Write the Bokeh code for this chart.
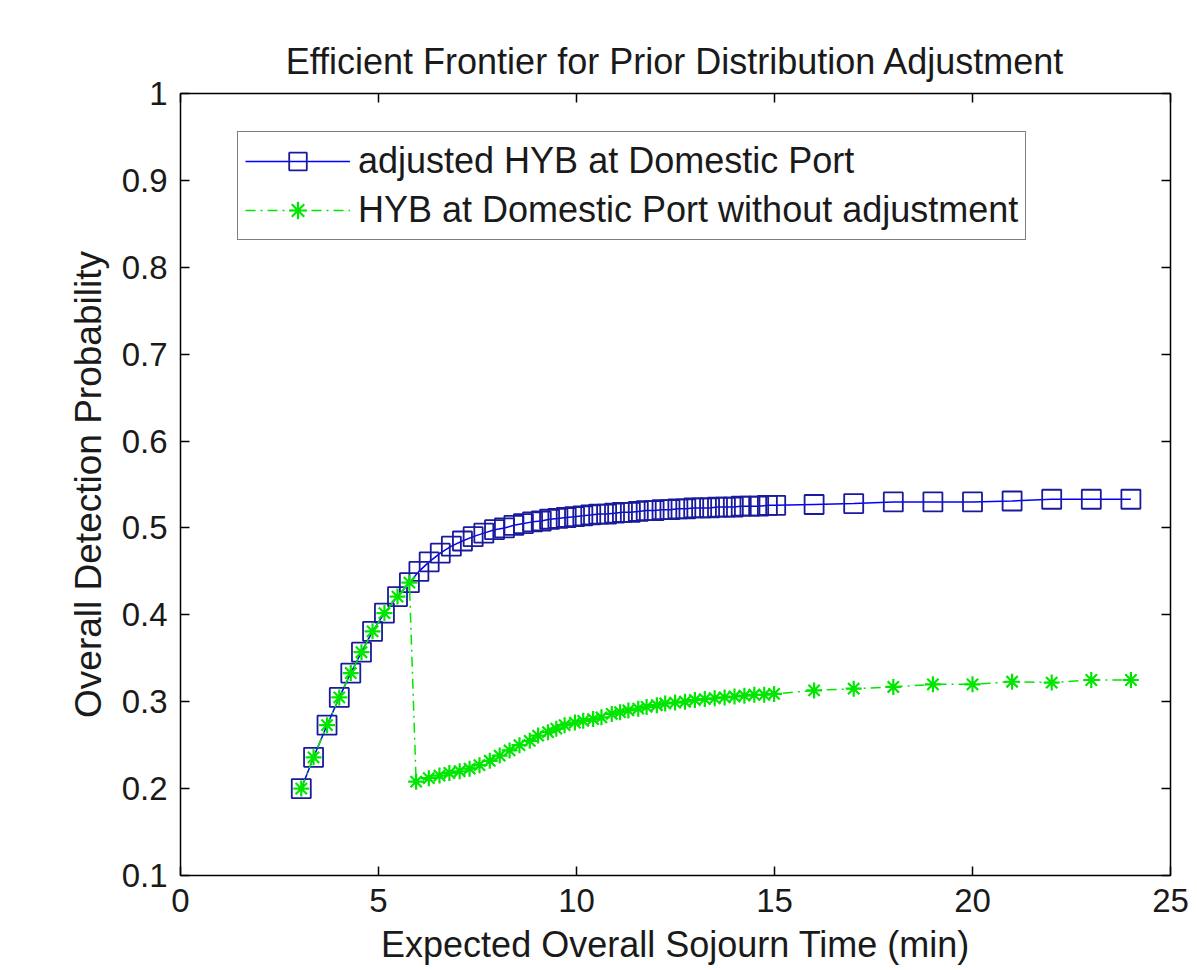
from bokeh.plotting import figure
from bokeh.models import LinearAxis, FixedTicker, Range1d, Legend, LegendItem, Title
from bokeh.embed import file_html
from bokeh.resources import INLINE

# ---- data ----
adj_x = [3.05, 3.36, 3.70, 4.01, 4.30, 4.57, 4.85, 5.15, 5.48, 5.78,
         6.02, 6.28, 6.56, 6.84, 7.12, 7.39, 7.66, 7.93, 8.18, 8.42,
         8.66, 8.89, 9.11, 9.32, 9.53, 9.74, 9.95, 10.16, 10.36, 10.56,
         10.76, 10.96, 11.16, 11.36, 11.56, 11.76, 11.96, 12.16, 12.36, 12.56,
         12.76, 12.96, 13.16, 13.36, 13.56, 13.76, 13.96, 14.16, 14.38, 14.60,
         14.82, 15.03, 16.0, 17.0, 18.0, 19.0, 20.0, 21.0, 22.0, 23.0, 24.0]
adj_y = [0.200, 0.236, 0.273, 0.305, 0.333, 0.357, 0.381, 0.402, 0.421, 0.437,
         0.450, 0.461, 0.471, 0.479, 0.485, 0.490, 0.494, 0.498, 0.500, 0.503,
         0.505, 0.507, 0.508, 0.510, 0.511, 0.512, 0.513, 0.514, 0.515, 0.516,
         0.516, 0.517, 0.518, 0.518, 0.519, 0.520, 0.520, 0.521, 0.521, 0.522,
         0.522, 0.523, 0.523, 0.523, 0.524, 0.524, 0.524, 0.525, 0.525, 0.525,
         0.526, 0.526, 0.527, 0.528, 0.530, 0.530, 0.530, 0.531, 0.533, 0.533, 0.533]

raw_x = [3.05, 3.36, 3.70, 4.01, 4.30, 4.57, 4.85, 5.15, 5.48, 5.78,
         5.95, 6.27, 6.54, 6.79, 7.05, 7.30, 7.55, 7.81, 8.06, 8.31,
         8.56, 8.82, 9.03, 9.28, 9.49, 9.70, 9.96, 10.17, 10.42, 10.63,
         10.89, 11.10, 11.31, 11.56, 11.77, 12.03, 12.24, 12.49, 12.74, 12.99,
         13.24, 13.49, 13.74, 13.99, 14.24, 14.49, 14.74, 14.99,
         16.0, 17.0, 18.0, 19.0, 20.0, 21.0, 22.0, 23.0, 24.0]
raw_y = [0.200, 0.236, 0.273, 0.305, 0.333, 0.357, 0.381, 0.402, 0.421, 0.437,
         0.208, 0.212, 0.215, 0.218, 0.220, 0.223, 0.227, 0.232, 0.238, 0.244,
         0.250, 0.255, 0.261, 0.265, 0.269, 0.273, 0.276, 0.278, 0.280, 0.282,
         0.286, 0.288, 0.290, 0.292, 0.294, 0.296, 0.298, 0.299, 0.300, 0.302,
         0.303, 0.304, 0.305, 0.306, 0.307, 0.308, 0.308, 0.309,
         0.313, 0.315, 0.317, 0.320, 0.320, 0.323, 0.322, 0.325, 0.325]

x_ticks = [0, 5, 10, 15, 20, 25]
y_ticks = [0.1, 0.2, 0.3, 0.4, 0.5, 0.6, 0.7, 0.8, 0.9, 1.0]
y_tick_labels = ["0.1", "0.2", "0.3", "0.4", "0.5", "0.6", "0.7", "0.8", "0.9", "1"]

title_text = "Efficient Frontier for Prior Distribution Adjustment"
x_label = "Expected Overall Sojourn Time (min)"
y_label = "Overall Detection Probability"
series_names = ["adjusted HYB at Domestic Port", "HYB at Domestic Port without adjustment"]

FONT = "Liberation Sans"
BLUE = "#0000ff"
BLUE_MK = "#1a1a9c"
GREEN = "#00e600"

p = figure(width=1195, height=968, output_backend="svg", toolbar_location=None,
           x_range=Range1d(0, 25), y_range=Range1d(0.1, 1.0),
           min_border_left=180, min_border_right=25, min_border_top=93, min_border_bottom=93)
p.title = Title(text=title_text, align="center", text_font=FONT, text_font_size="36px",
                text_font_style="normal", text_color="#1a1a1a", standoff=24)
p.grid.visible = False
p.outline_line_color = "black"
p.outline_line_width = 1.5
p.background_fill_color = "white"
p.border_fill_color = "white"

def style_axis(ax):
    ax.axis_line_color = None
    ax.major_tick_in = 9
    ax.major_tick_out = 0
    ax.minor_tick_line_color = None
    ax.major_tick_line_color = "black"
    ax.major_tick_line_width = 1.5
    ax.major_label_text_font = FONT
    ax.major_label_text_font_size = "33px"
    ax.major_label_text_color = "#1a1a1a"
    ax.axis_label_text_font = FONT
    ax.axis_label_text_font_size = "36px"
    ax.axis_label_text_font_style = "normal"
    ax.axis_label_text_color = "#1a1a1a"

xa = p.xaxis[0]
ya = p.yaxis[0]
xa.ticker = FixedTicker(ticks=x_ticks)
ya.ticker = FixedTicker(ticks=y_ticks)
ya.major_label_overrides = {t: l for t, l in zip(y_ticks, y_tick_labels)}
style_axis(xa)
style_axis(ya)
ya.axis_label_text_font_size = "37px"
xa.axis_label = x_label
ya.axis_label = y_label
xa.major_label_standoff = 13
xa.axis_label_standoff = 9
ya.major_label_standoff = 13
ya.axis_label_standoff = 10

top_ax = LinearAxis(ticker=FixedTicker(ticks=x_ticks))
right_ax = LinearAxis(ticker=FixedTicker(ticks=y_ticks))
for ax, ticks in ((top_ax, x_ticks), (right_ax, y_ticks)):
    style_axis(ax)
    ax.major_label_overrides = {t: "" for t in ticks}
    ax.major_label_text_font_size = "1px"
    ax.major_label_standoff = 0
p.add_layout(top_ax, "above")
p.add_layout(right_ax, "right")

l1 = p.line(adj_x, adj_y, line_color=BLUE, line_width=1.5)
s1 = p.scatter(adj_x, adj_y, marker="square", size=19, fill_color=None,
               line_color=BLUE_MK, line_width=1.8)
l2 = p.line(raw_x, raw_y, line_color=GREEN, line_width=1.5, line_dash="10 5 2 5")
s2 = p.scatter(raw_x, raw_y, marker="asterisk", size=16, line_color=GREEN, line_width=2.2)

legend = Legend(items=[LegendItem(label=series_names[0], renderers=[l1, s1]),
                       LegendItem(label=series_names[1], renderers=[l2, s2])],
                location=(57, 635))
legend.label_text_font = FONT
legend.label_text_font_size = "36px"
legend.label_text_color = "#1a1a1a"
legend.glyph_width = 105
legend.glyph_height = 44
legend.label_height = 44
legend.label_standoff = 8
legend.padding = 7
legend.spacing = 5
legend.margin = 0
legend.border_line_color = "black"
legend.border_line_width = 1.5
legend.background_fill_color = "white"
legend.background_fill_alpha = 1.0
p.add_layout(legend, "center")

open("out.html", "w").write(file_html(p, INLINE))
